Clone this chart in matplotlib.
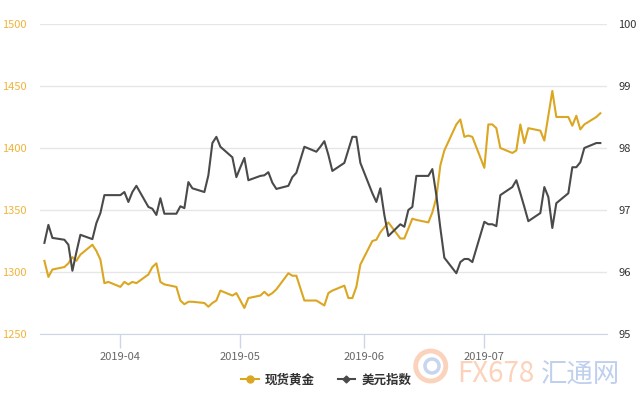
import matplotlib
matplotlib.use('Agg')
from matplotlib import pyplot as plt
import matplotlib.dates as mdates
from matplotlib.lines import Line2D
from matplotlib.patches import Ellipse
import pandas as pd

plt.rcParams['font.family'] = ['Noto Sans CJK SC', 'DejaVu Sans']

dates = [
    "2019-03-13", "2019-03-14", "2019-03-15", "2019-03-18", "2019-03-19", "2019-03-20",
    "2019-03-21", "2019-03-22", "2019-03-25", "2019-03-26", "2019-03-27", "2019-03-28",
    "2019-03-29",
    "2019-04-01", "2019-04-02", "2019-04-03", "2019-04-04", "2019-04-05", "2019-04-08",
    "2019-04-09", "2019-04-10", "2019-04-11", "2019-04-12", "2019-04-15", "2019-04-16",
    "2019-04-17", "2019-04-18", "2019-04-19", "2019-04-22", "2019-04-23", "2019-04-24",
    "2019-04-25", "2019-04-26", "2019-04-29", "2019-04-30",
    "2019-05-01", "2019-05-02", "2019-05-03", "2019-05-06", "2019-05-07", "2019-05-08",
    "2019-05-09", "2019-05-10", "2019-05-13", "2019-05-14", "2019-05-15", "2019-05-16",
    "2019-05-17", "2019-05-20", "2019-05-21", "2019-05-22", "2019-05-23", "2019-05-24",
    "2019-05-27", "2019-05-28", "2019-05-29", "2019-05-30", "2019-05-31",
    "2019-06-03", "2019-06-04", "2019-06-05", "2019-06-06", "2019-06-07", "2019-06-10",
    "2019-06-11", "2019-06-12", "2019-06-13", "2019-06-14", "2019-06-17", "2019-06-18",
    "2019-06-19", "2019-06-20", "2019-06-21", "2019-06-24", "2019-06-25", "2019-06-26",
    "2019-06-27", "2019-06-28",
    "2019-07-01", "2019-07-02", "2019-07-03", "2019-07-04", "2019-07-05", "2019-07-08",
    "2019-07-09", "2019-07-10", "2019-07-11", "2019-07-12", "2019-07-15", "2019-07-16",
    "2019-07-17", "2019-07-18", "2019-07-19", "2019-07-22", "2019-07-23", "2019-07-24",
    "2019-07-25", "2019-07-26", "2019-07-29", "2019-07-30",
]

gold = [
    1309, 1296, 1302, 1304, 1307, 1312, 1309, 1314, 1322, 1317, 1310, 1291, 1292,
    1288, 1292, 1290, 1292, 1291, 1298, 1304, 1307, 1292, 1290, 1288, 1277, 1274,
    1276, 1276, 1275, 1272, 1275, 1277, 1285, 1281, 1283,
    1277, 1271, 1279, 1281, 1284, 1281, 1283, 1286, 1299, 1297, 1297, 1287, 1277,
    1277, 1275, 1273, 1283, 1285, 1289, 1279, 1279, 1288, 1306,
    1325, 1326, 1332, 1336, 1340, 1327, 1327, 1335, 1343, 1342, 1340, 1348, 1360,
    1386, 1398, 1419, 1423, 1409, 1410, 1409,
    1384, 1419, 1419, 1416, 1400, 1396, 1398, 1419, 1404, 1416, 1414, 1406, 1426,
    1446, 1425, 1425, 1418, 1426, 1415, 1419, 1425, 1428,
]

dollar = [
    96.47, 96.76, 96.55, 96.52, 96.44, 96.02, 96.32, 96.60, 96.53, 96.79, 96.95, 97.24, 97.24,
    97.24, 97.29, 97.13, 97.29, 97.39, 97.05, 97.02, 96.92, 97.19, 96.94, 96.94, 97.06, 97.03,
    97.45, 97.35, 97.29, 97.56, 98.08, 98.18, 98.02, 97.85, 97.53,
    97.69, 97.84, 97.48, 97.55, 97.56, 97.61, 97.44, 97.34, 97.39, 97.53, 97.60, 97.81, 98.02,
    97.94, 98.02, 98.11, 97.89, 97.63, 97.76, 97.97, 98.18, 98.18, 97.76,
    97.27, 97.13, 97.35, 96.92, 96.58, 96.77, 96.73, 97.00, 97.05, 97.55, 97.55, 97.66, 97.24,
    96.71, 96.23, 95.98, 96.16, 96.21, 96.21, 96.16,
    96.81, 96.77, 96.77, 96.74, 97.24, 97.37, 97.48, 97.27, 97.05, 96.82, 96.95, 97.37, 97.21,
    96.71, 97.11, 97.27, 97.69, 97.69, 97.77, 98.00, 98.08, 98.08,
]

gold_ticks = [1250, 1300, 1350, 1400, 1450, 1500]
dollar_ticks = [95, 96, 97, 98, 99, 100]
month_ticks = ["2019-04-01", "2019-05-01", "2019-06-01", "2019-07-01"]

gold_color = '#dba622'
dollar_color = '#4a4a4a'

x = pd.to_datetime(dates)

fig = plt.figure(figsize=(6.4, 4.0), dpi=100)
ax = fig.add_axes([0.0625, 0.165, 0.8855, 0.775])
ax2 = ax.twinx()

ax.plot(x, gold, color=gold_color, lw=1.5, zorder=3)
ax2.plot(x, dollar, color=dollar_color, lw=1.5, zorder=3)

apr1 = mdates.date2num(pd.Timestamp("2019-04-01"))
ax.set_xlim(apr1 - 20.1, apr1 + 121.6)
ax.set_ylim(1250, 1500)
ax2.set_ylim(95, 100)

ax.set_yticks(gold_ticks)
ax2.set_yticks(dollar_ticks)
ax.grid(axis='y', color='#e6e6e6', lw=1)
ax.set_axisbelow(True)

for a in (ax, ax2):
    for s in a.spines.values():
        s.set_visible(False)
ax.spines['bottom'].set_visible(True)
ax.spines['bottom'].set_color('#ccd6eb')

ax.set_xticks(pd.to_datetime(month_ticks))
ax.xaxis.set_major_formatter(mdates.DateFormatter('%Y-%m'))
ax.tick_params(axis='x', colors='#ccd6eb', length=10, width=1, labelsize=8,
               labelcolor='#666666', pad=3)

ax.tick_params(axis='y', length=0, labelsize=8, labelcolor='#f0b43c', pad=0)
for lab in ax.get_yticklabels():
    lab.set_horizontalalignment('left')
    lab.set_x(-0.0625 / 0.8855 + 0.004)
ax2.tick_params(axis='y', length=0, labelsize=8, labelcolor='#333333', pad=8.5)

handles = [
    Line2D([], [], color=gold_color, lw=1.5, marker='o', markersize=5),
    Line2D([], [], color=dollar_color, lw=1.5, marker='D', markersize=3.5),
]
fig.legend(handles, ['现货黄金', '美元指数'], loc='center', bbox_to_anchor=(0.51, 0.05),
           ncol=2, frameon=False, handlelength=1.4, columnspacing=1.8,
           handletextpad=0.5, prop={'size': 9, 'weight': 'bold'},
           labelcolor='#333333')

# faint watermark, kept behind the axes
logo_out = Ellipse((0.673, 0.085), 0.047, 0.075, transform=fig.transFigure,
                   facecolor='none', edgecolor='#fbd3bd', lw=3.5, zorder=-2)
logo_in = Ellipse((0.675, 0.085), 0.022, 0.035, transform=fig.transFigure,
                  facecolor='none', edgecolor='#c8d5ef', lw=2.5, zorder=-2)
fig.add_artist(logo_out)
fig.add_artist(logo_in)
fig.text(0.715, 0.028, 'FX678', fontsize=20, color='#fcd3ba', ha='left', va='bottom',
         zorder=-1)
fig.text(0.845, 0.028, '汇通网', fontsize=19, color='#bfcfee', ha='left', va='bottom',
         zorder=-1)

fig.savefig('out.png', dpi=100)
